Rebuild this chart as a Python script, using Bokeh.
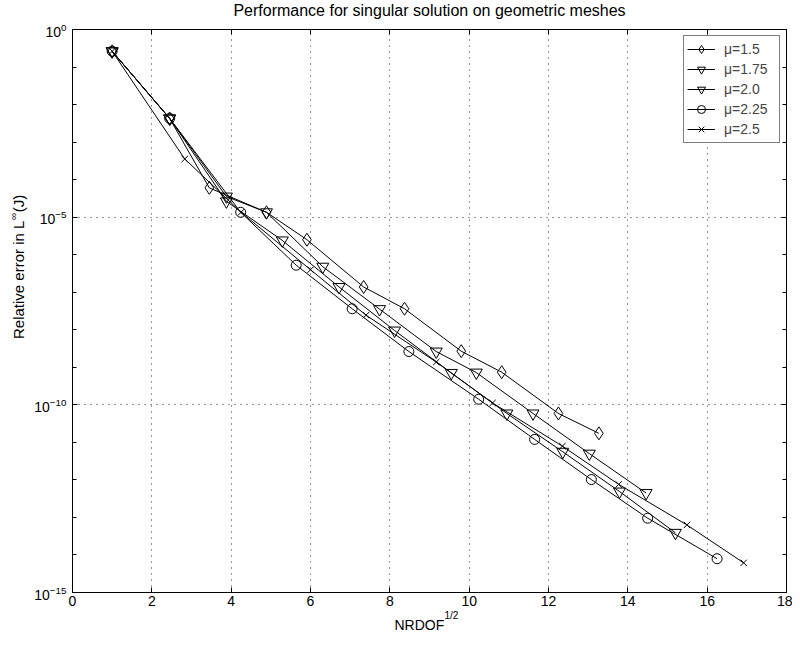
import math
from bokeh.plotting import figure
from bokeh.models import (Range1d, FixedTicker, LogAxis, LinearAxis, Label,
                          Legend, LegendItem)
from bokeh.embed import file_html
from bokeh.resources import INLINE

# ---------------- data ----------------
title_text = "Performance for singular solution on geometric meshes"
x_ticks = [0, 2, 4, 6, 8, 10, 12, 14, 16, 18]
y_ticks = [1e0, 1e-5, 1e-10, 1e-15]
y_minor = [10.0 ** -k for k in range(16)]

labels = ["\u03bc=1.5", "\u03bc=1.75", "\u03bc=2.0", "\u03bc=2.25", "\u03bc=2.5"]

x_mu15 = [1.0, 2.45, 3.45, 4.89, 5.91, 7.34, 8.37, 9.80, 10.82, 12.25, 13.27]
y_mu15 = [2.63e-1, 4.27e-3, 6.03e-5, 1.35e-5, 2.51e-6, 1.38e-7, 3.63e-8,
          2.69e-9, 7.41e-10, 5.89e-11, 1.74e-11]

x_mu175 = [1.0, 2.45, 3.88, 4.89, 6.31, 7.74, 9.17, 10.18, 11.61, 13.03, 14.46]
y_mu175 = [2.63e-1, 4.27e-3, 3.55e-5, 1.35e-5, 4.79e-7, 3.55e-8, 2.63e-9,
           7.24e-10, 5.89e-11, 5.01e-12, 4.47e-13]

x_mu20 = [1.0, 2.45, 3.88, 5.29, 6.72, 8.12, 9.55, 10.95, 12.36, 13.79, 15.20]
y_mu20 = [2.63e-1, 4.27e-3, 2.63e-5, 2.40e-6, 1.38e-7, 9.55e-9, 7.08e-10,
          5.89e-11, 5.62e-12, 4.90e-13, 3.89e-14]

x_mu225 = [1.0, 2.45, 4.24, 5.64, 7.05, 8.48, 10.24, 11.65, 13.08, 14.50, 16.25]
y_mu225 = [2.63e-1, 4.27e-3, 1.35e-5, 5.25e-7, 3.63e-8, 2.63e-9, 1.41e-10,
           1.20e-11, 1.02e-12, 9.55e-14, 7.94e-15]

x_mu25 = [1.0, 2.83, 4.25, 6.0, 7.40, 9.17, 10.59, 12.35, 13.77, 15.49, 16.92]
y_mu25 = [2.63e-1, 3.55e-4, 1.35e-5, 3.98e-7, 2.45e-8, 1.38e-9, 1.12e-10,
          7.94e-12, 7.59e-13, 6.31e-14, 6.17e-15]

series = [
    (labels[0], x_mu15, y_mu15, "diamond", 13),
    (labels[1], x_mu175, y_mu175, "inverted_triangle", 12),
    (labels[2], x_mu20, y_mu20, "inverted_triangle", 12),
    (labels[3], x_mu225, y_mu225, "circle", 10),
    (labels[4], x_mu25, y_mu25, "x", 9),
]

FONT = "Liberation Sans"
FW, FH = 714, 563

p = figure(frame_width=FW, frame_height=FH,
           x_range=Range1d(0, 18), y_range=Range1d(1e-15, 1e0),
           y_axis_type="log", output_backend="svg", toolbar_location=None,
           min_border_left=72, min_border_top=29, min_border_right=6,
           min_border_bottom=20,
           background_fill_color="white", border_fill_color="white",
           outline_line_color="black", outline_line_width=1)
p.title.visible = False

xt = FixedTicker(ticks=x_ticks)
yt = FixedTicker(ticks=y_ticks, minor_ticks=y_minor)

xa = p.xaxis[0]
xa.ticker = xt
ya = p.yaxis[0]
ya.ticker = yt
for ax in (xa, ya):
    ax.major_tick_in = 5
    ax.major_tick_out = 0
    ax.axis_line_color = "black"
    ax.major_tick_line_color = "black"
    ax.major_label_text_font = FONT
    ax.major_label_text_font_size = "14px"
    ax.major_label_text_color = "black"
xa.minor_tick_line_color = None
xa.major_label_standoff = 3
ya.minor_tick_in = 4
ya.minor_tick_out = 0
ya.minor_tick_line_color = "black"
ya.major_label_standoff = 6

top = LinearAxis(ticker=xt, major_label_text_font_size="1px",
                 major_label_text_color=None,
                 major_label_standoff=0, major_tick_in=5, major_tick_out=0,
                 minor_tick_line_color=None, axis_line_color="black")
p.add_layout(top, "above")
right = LogAxis(ticker=yt, major_label_text_font_size="1px",
                major_label_text_color=None,
                major_label_standoff=0, major_tick_in=5, major_tick_out=0,
                minor_tick_in=4, minor_tick_out=0, axis_line_color="black")
p.add_layout(right, "right")

p.xgrid.ticker = xt
p.ygrid.ticker = yt
for g in (p.xgrid, p.ygrid):
    g.grid_line_color = "black"
    g.grid_line_dash = "1 5"
    g.grid_line_alpha = 0.8
    g.grid_line_width = 1
p.ygrid.minor_grid_line_color = None

items = []
for lab, xs, ys, mk, sz in series:
    lr = p.line(xs, ys, line_color="black", line_width=1)
    sr = p.scatter(xs, ys, marker=mk, size=sz, line_color="black",
                   fill_color=None, line_width=1)
    items.append(LegendItem(label=lab, renderers=[lr, sr]))

legend = Legend(items=items, location="top_right", margin=6, padding=3,
                spacing=0, glyph_width=28, glyph_height=20, label_height=20,
                label_width=52, label_standoff=9, label_text_font=FONT,
                label_text_font_size="14px", border_line_color="black",
                border_line_width=1, background_fill_color="white",
                background_fill_alpha=1)
p.add_layout(legend)

# title as a label in the panel above
p.add_layout(Label(x=FW / 2, y=19.5, x_units="screen", y_units="screen",
                   text=title_text, text_align="center",
                   text_baseline="middle", text_font=FONT,
                   text_font_size="16px", text_color="black"), "above")

# x axis label: NRDOF^{1/2}  (labels placed in side panels below)
p.add_layout(Label(x=322, y=0, x_units="screen", y_units="screen",
                   text="NRDOF", text_align="left", text_baseline="middle",
                   text_font=FONT, text_font_size="14px", text_color="black"),
             "below")
p.add_layout(Label(x=372, y=20, x_units="screen", y_units="screen",
                   text="1/2", text_align="left", text_baseline="middle",
                   text_font=FONT, text_font_size="10px", text_color="black"),
             "below")

# y axis label: Relative error in L^inf(J), rotated (side panels left)
ang = math.pi / 2
y0 = 253.5
p.add_layout(Label(x=4, y=y0, x_units="screen", y_units="screen",
                   text="Relative error in L\u00a0\u00a0(J)", angle=ang,
                   text_align="left", text_baseline="middle", text_font=FONT,
                   text_font_size="15px", text_color="black"), "left")
p.add_layout(Label(x=10, y=y0 + 122.5, x_units="screen", y_units="screen",
                   text="\u221e", angle=ang, text_align="center",
                   text_baseline="middle", text_font=FONT,
                   text_font_size="10px", text_color="black"), "left")

open("out.html", "w").write(file_html(p, INLINE))
